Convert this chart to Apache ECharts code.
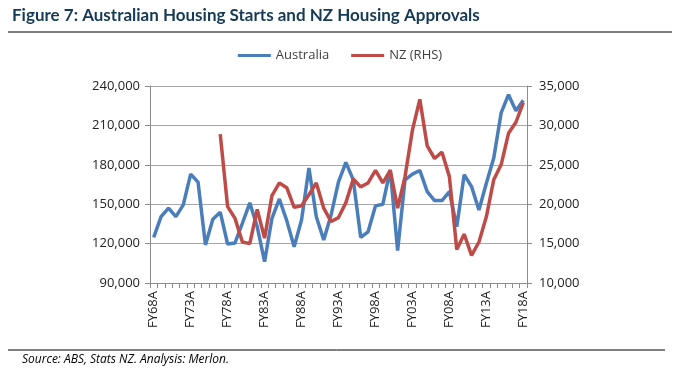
<!DOCTYPE html>
<html><head><meta charset="utf-8">
<script src="https://cdn.jsdelivr.net/npm/echarts@6/dist/echarts.min.js"></script>
<style>html,body{margin:0;padding:0;background:#fff}#c{width:680px;height:370px}</style>
</head><body><div id="c"></div>
<script>
const years = [];
for (let y = 1968; y <= 2018; y++) years.push('FY' + String(y % 100).padStart(2, '0') + 'A');
const australia = [124.8,140.5,147,140.5,149.5,172.9,166.8,119,138.5,143.9,119.7,120.5,135.5,151,133,106.2,139.3,154,137.5,117.6,138,177.5,140.5,122.8,141.8,167,181.8,168.5,124.8,129,148.7,150,176.2,114.6,168.5,172.9,175.7,159.6,152.8,152.8,159.6,132.9,172.4,163.4,145.6,166,185.1,219.5,233.4,221.2,229.1].map(v => v * 1000);
const nz = [null,null,null,null,null,null,null,null,null,28.9,19.7,18.2,15.2,15.0,19.35,15.7,21.1,22.7,22.1,19.6,19.8,21.2,22.7,19.5,17.8,18.3,20.2,23.2,22.2,22.7,24.3,22.7,24.3,19.5,23.5,29.4,33.3,27.4,25.8,26.6,23.5,14.25,16.2,13.5,15.2,18.4,23.1,25.0,29.0,30.4,32.9].map(v => v == null ? null : v * 1000);
const leftTicks = [90000, 240000, 30000];
const rightTicks = [10000, 35000, 5000];

const chart = echarts.init(document.getElementById('c'));
const fmt = v => v.toLocaleString('en-US');
const axisFont = {fontFamily: 'Open Sans', fontSize: 13, color: '#222'};
chart.setOption({
  animation: false,
  title: {text: 'Figure 7: Australian Housing Starts and NZ Housing Approvals', left: 7, top: 2,
    textStyle: {fontFamily: 'Lato', fontWeight: 'bold', fontSize: 17, color: '#163a55'}},
  legend: {top: 44, left: 'center', itemWidth: 33, itemHeight: 3, itemGap: 22,
    icon: 'rect', textStyle: {fontFamily: 'Open Sans', fontSize: 13, color: '#404040'},
    data: ['Australia', 'NZ (RHS)']},
  graphic: [
    {type: 'line', shape: {x1: 8, y1: 32, x2: 672, y2: 32}, style: {stroke: '#000', lineWidth: 1}},
    {type: 'line', shape: {x1: 8, y1: 350, x2: 665, y2: 350}, style: {stroke: '#000', lineWidth: 1}},
    {type: 'text', left: 22, top: 354, style: {text: 'Source: ABS, Stats NZ. Analysis: Merlon.',
      font: 'italic 12px "Open Sans"', fill: '#000'}}
  ],
  grid: {left: 150, right: 153, top: 86, bottom: 87},
  xAxis: {type: 'category', data: years, boundaryGap: true,
    axisLine: {lineStyle: {color: '#8c8c8c'}},
    axisTick: {show: true, interval: 0, length: 5, lineStyle: {color: '#8c8c8c'}},
    axisLabel: Object.assign({interval: 4, rotate: 90, margin: 8}, axisFont)},
  yAxis: [
    {type: 'value', min: leftTicks[0], max: leftTicks[1], interval: leftTicks[2],
      axisLine: {show: true, lineStyle: {color: '#8c8c8c'}},
      axisTick: {show: true, length: 5, lineStyle: {color: '#8c8c8c'}},
      splitLine: {lineStyle: {color: '#a6a6a6'}},
      axisLabel: Object.assign({formatter: fmt, margin: 10}, axisFont)},
    {type: 'value', min: rightTicks[0], max: rightTicks[1], interval: rightTicks[2], position: 'right',
      axisLine: {show: true, lineStyle: {color: '#8c8c8c'}},
      axisTick: {show: true, length: 5, lineStyle: {color: '#8c8c8c'}},
      splitLine: {show: false},
      axisLabel: Object.assign({formatter: fmt, margin: 12}, axisFont)}
  ],
  series: [
    {name: 'Australia', type: 'line', data: australia, yAxisIndex: 0, showSymbol: false, symbol: 'none',
      lineStyle: {width: 3.5, color: '#4a7ebb'}, itemStyle: {color: '#4a7ebb'}},
    {name: 'NZ (RHS)', type: 'line', data: nz, yAxisIndex: 1, showSymbol: false, symbol: 'none',
      lineStyle: {width: 3.5, color: '#be4b48'}, itemStyle: {color: '#be4b48'}}
  ]
});
</script></body></html>
